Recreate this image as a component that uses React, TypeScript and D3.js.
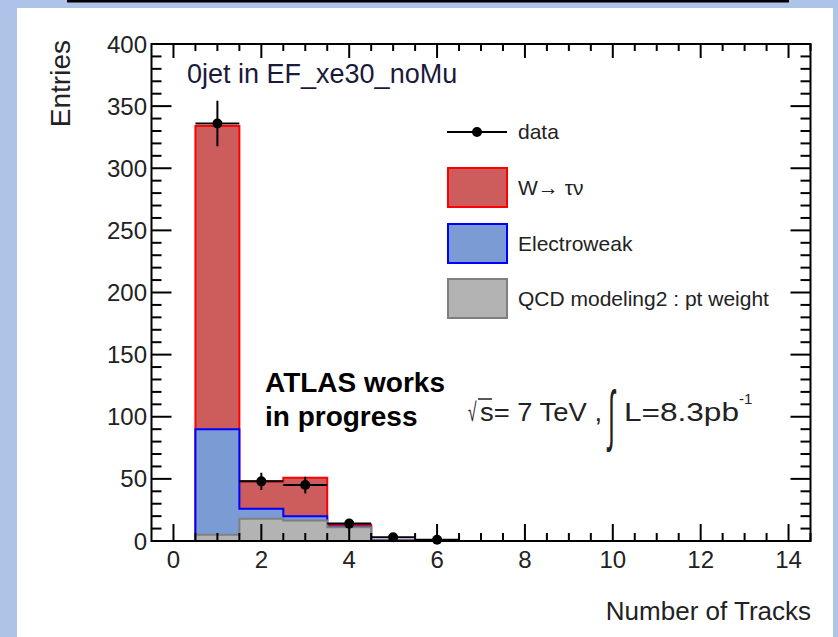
import React from 'react';
import * as d3 from 'd3';

// bin centres (number of tracks), histogram range -0.5 .. 14.5
const binCentres = [1, 2, 3, 4, 5, 6];
const qcdCounts = [5, 18, 16.5, 11, 0.5, 0];
const ewkCounts = [85, 8, 3.5, 0.5, 0, 0];
const wtaunuCounts = [244, 22, 31, 1.5, 0, 0];
const dataCounts = [336, 48, 45, 14, 3, 1];

const xTickValues = [0, 2, 4, 6, 8, 10, 12, 14];
const yTickValues = [0, 50, 100, 150, 200, 250, 300, 350, 400];

const legendLabels = ['data', 'W\u2192 \u03c4\u03bd', 'Electroweak', 'QCD modeling2 : pt weight'];

const W = 838;
const H = 637;
const FONT = 'Liberation Sans, Arial, Helvetica, sans-serif';

const left = 151.5, right = 810.5, top = 44, bottom = 541;

export default function App() {
  const x = d3.scaleLinear().domain([-0.5, 14.5]).range([left, right]);
  const y = d3.scaleLinear().domain([0, 400]).range([bottom, top]);

  const rows = binCentres.map((c, i) => ({
    c,
    qcd: qcdCounts[i],
    ewk: ewkCounts[i],
    w: wtaunuCounts[i],
  }));
  const stacked = d3.stack<any>().keys(['qcd', 'ewk', 'w'])(rows);

  // step contour for one cumulative layer
  const stepPoints = (vals: number[]) => {
    const pts: [number, number][] = [[-0.5, 0], [binCentres[0] - 0.5, 0]];
    binCentres.forEach((c, i) => {
      pts.push([c - 0.5, vals[i]]);
      pts.push([c + 0.5, vals[i]]);
    });
    pts.push([binCentres[binCentres.length - 1] + 0.5, 0]);
    pts.push([14.5, 0]);
    return pts;
  };
  const area = d3.area<[number, number]>().x(d => x(d[0])).y0(y(0)).y1(d => y(d[1]));
  const line = d3.line<[number, number]>().x(d => x(d[0])).y(d => y(d[1]));

  const layers = [
    { vals: stacked[2].map(d => d[1]), fill: '#cd5c5c', stroke: '#ff0000' },
    { vals: stacked[1].map(d => d[1]), fill: '#7b9bd4', stroke: '#0000ff' },
    { vals: stacked[0].map(d => d[1]), fill: '#b3b3b3', stroke: '#7f7f7f' },
  ];

  const yMinor = d3.range(0, 401, 10).filter(v => v % 50 !== 0);
  const xMinor = d3.range(0, 14.6, 0.5).filter(v => v % 2 !== 0);

  const legendBoxes = [
    { fill: '#cd5c5c', stroke: '#ff0000', y: 168 },
    { fill: '#7b9bd4', stroke: '#0000ff', y: 224 },
    { fill: '#b3b3b3', stroke: '#7f7f7f', y: 279 },
  ];

  return (
    <svg width={W} height={H} style={{ position: 'fixed', left: 0, top: 0 }} fontFamily={FONT}>
      <rect x={0} y={0} width={W} height={H} fill="#aec3e8" />
      <line x1={67} x2={789} y1={1} y2={1} stroke="#000" strokeWidth={3} />
      <rect x={17} y={8} width={816} height={H - 8} fill="#fff" />

      {/* stacked histograms */}
      {layers.map((l, i) => (
        <g key={i}>
          <path d={area(stepPoints(l.vals)) || ''} fill={l.fill} />
          <path d={line(stepPoints(l.vals)) || ''} fill="none" stroke={l.stroke} strokeWidth={2} />
        </g>
      ))}

      {/* data */}
      {binCentres.map((c, i) => {
        const n = dataCounts[i];
        const e = Math.sqrt(n);
        return (
          <g key={'d' + i}>
            <line x1={x(c - 0.5)} x2={x(c + 0.5)} y1={y(n)} y2={y(n)} stroke="#000" strokeWidth={2} />
            <line x1={x(c)} x2={x(c)} y1={y(n + e)} y2={y(Math.max(0, n - e))} stroke="#000" strokeWidth={2} />
            <circle cx={x(c)} cy={y(n)} r={5} fill="#000" />
          </g>
        );
      })}

      {/* frame and ticks */}
      <rect x={left} y={top} width={right - left} height={bottom - top} fill="none" stroke="#000" strokeWidth={2} />
      {yTickValues.map(v => (
        <g key={'y' + v}>
          <line x1={left} x2={left + 20} y1={y(v)} y2={y(v)} stroke="#000" strokeWidth={2} />
          <line x1={right} x2={right - 20} y1={y(v)} y2={y(v)} stroke="#000" strokeWidth={2} />
          <text x={147} y={y(v) + 8.5} textAnchor="end" fontSize={24} fill="#222">{v}</text>
        </g>
      ))}
      {yMinor.map(v => (
        <g key={'ym' + v}>
          <line x1={left} x2={left + 10} y1={y(v)} y2={y(v)} stroke="#000" strokeWidth={2} />
          <line x1={right} x2={right - 10} y1={y(v)} y2={y(v)} stroke="#000" strokeWidth={2} />
        </g>
      ))}
      {xTickValues.map(v => (
        <g key={'x' + v}>
          <line x1={x(v)} x2={x(v)} y1={bottom} y2={bottom - 17} stroke="#000" strokeWidth={2} />
          <line x1={x(v)} x2={x(v)} y1={top} y2={top + 14} stroke="#000" strokeWidth={2} />
          <text x={x(v)} y={568} textAnchor="middle" fontSize={24} fill="#222">{v}</text>
        </g>
      ))}
      {xMinor.map(v => (
        <g key={'xm' + v}>
          <line x1={x(v)} x2={x(v)} y1={bottom} y2={bottom - 8} stroke="#000" strokeWidth={2} />
          <line x1={x(v)} x2={x(v)} y1={top} y2={top + 7} stroke="#000" strokeWidth={2} />
        </g>
      ))}

      {/* axis titles */}
      <text transform="translate(70,40) rotate(-90)" textAnchor="end" fontSize={28} fill="#222">Entries</text>
      <text x={811} y={620} textAnchor="end" fontSize={26} fill="#222">Number of Tracks</text>

      <text x={187} y={83} fontSize={27} fill="#1a1a3a">0jet in EF_xe30_noMu</text>

      {/* legend */}
      <line x1={447} x2={507} y1={132} y2={132} stroke="#000" strokeWidth={2} />
      <circle cx={477} cy={132} r={5} fill="#000" />
      <text x={518} y={139} fontSize={21} fill="#222">{legendLabels[0]}</text>
      {legendBoxes.map((b, i) => (
        <g key={'lg' + i}>
          <rect x={448} y={b.y} width={59} height={39} fill={b.fill} stroke={b.stroke} strokeWidth={2} />
          <text x={518} y={b.y + 27} fontSize={21} fill="#222">{legendLabels[i + 1]}</text>
        </g>
      ))}

      {/* labels */}
      <text x={265} y={392} fontSize={28} fontWeight="bold" fill="#000">ATLAS works</text>
      <text x={265} y={426} fontSize={28} fontWeight="bold" fill="#000">in progress</text>

      <text transform="translate(468,421) scale(0.6,1)" fontSize={26} fill="#222">{'\u221a'}</text>
      <line x1={478} x2={492} y1={399} y2={399} stroke="#222" strokeWidth={1.5} />
      <text x={480} y={421} fontSize={26} fill="#222" textLength={122} lengthAdjust="spacingAndGlyphs">s= 7 TeV ,</text>
      <text transform="translate(608,438) scale(0.55,1.45)" fontSize={46} fill="#222">{'\u222b'}</text>
      <text x={624} y={421} fontSize={26} fill="#222" textLength={115} lengthAdjust="spacingAndGlyphs">L=8.3pb</text>
      <text x={739} y={404} fontSize={15} fill="#222">-1</text>
    </svg>
  );
}
